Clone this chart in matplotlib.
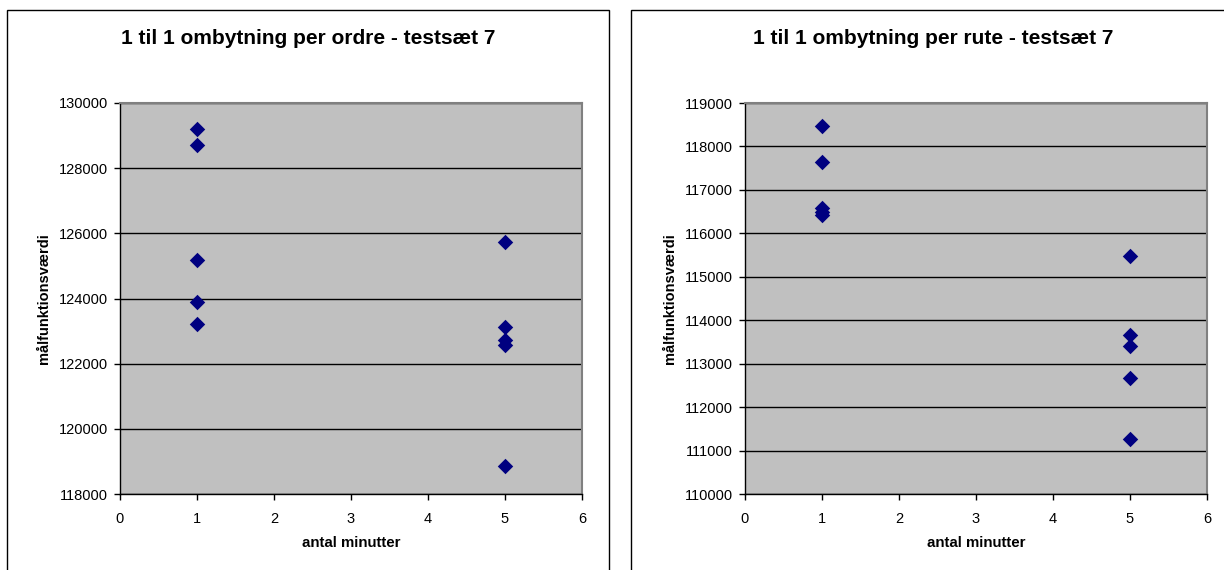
import matplotlib.pyplot as plt
from matplotlib.patches import Rectangle

plt.rcParams['font.family'] = ['Liberation Sans', 'DejaVu Sans']

# antal minutter / målfunktionsværdi for hver kørsel
ordre_x = [1, 1, 1, 1, 1, 5, 5, 5, 5, 5]
ordre_y = [129200, 128720, 125190, 123900, 123220,
           125740, 123130, 122720, 122560, 118870]

rute_x = [1, 1, 1, 1, 1, 5, 5, 5, 5, 5]
rute_y = [118480, 117650, 116580, 116500, 116430,
          115480, 113670, 113410, 112660, 111260]

titles = ['1 til 1 ombytning per ordre - testsæt 7',
          '1 til 1 ombytning per rute - testsæt 7']
ylims = [(118000, 130000), (110000, 119000)]
ystep = [2000, 1000]

fig = plt.figure(figsize=(12.24, 5.70), dpi=100)

# chart borders (cut off by the image edge)
W, H = 1224, 570
fig.patches.append(Rectangle((7 / W, -0.1), (609 - 7) / W, 1.1 - 10 / H,
                             transform=fig.transFigure, fill=False,
                             edgecolor='black', lw=1))
fig.patches.append(Rectangle((631 / W, -0.1), 0.5, 1.1 - 10 / H,
                             transform=fig.transFigure, fill=False,
                             edgecolor='black', lw=1))

axes = [fig.add_axes([120 / W, 1 - 494 / H, 462 / W, 391 / H]),
        fig.add_axes([745 / W, 1 - 494 / H, 462 / W, 391 / H])]

for ax, xs, ys, title, ylim, step, cx in zip(axes, [ordre_x, rute_x],
                                              [ordre_y, rute_y], titles,
                                              ylims, ystep, [308, 933]):
    ax.set_facecolor('#c0c0c0')
    ax.scatter(xs, ys, marker='D', s=62, color='#000080', zorder=3,
               linewidths=0)
    ax.set_xlim(0, 6)
    ax.set_ylim(*ylim)
    ax.set_xticks(range(0, 7))
    ax.set_yticks(range(ylim[0], ylim[1] + 1, step))
    ax.yaxis.grid(True, color='black', lw=1)
    ax.set_axisbelow(True)
    for s in ['top', 'right']:
        ax.spines[s].set_color('#808080')
        ax.spines[s].set_linewidth(1.5)
    for s in ['left', 'bottom']:
        ax.spines[s].set_color('black')
        ax.spines[s].set_linewidth(1)
    ax.tick_params(direction='out', length=4, width=1, labelsize=10.5)
    ax.tick_params(axis='x', pad=9)
    ax.tick_params(axis='y', pad=4.5)
    ax.set_xlabel('antal minutter', fontsize=10.8, fontweight='bold',
                  labelpad=7)
    ax.set_ylabel('målfunktionsværdi', fontsize=10.5, fontweight='bold',
                  labelpad=6)
    fig.text(cx / W, 1 - 39 / H, title, fontsize=15, fontweight='bold',
             ha='center', va='center')

fig.savefig('out.png', dpi=100)
